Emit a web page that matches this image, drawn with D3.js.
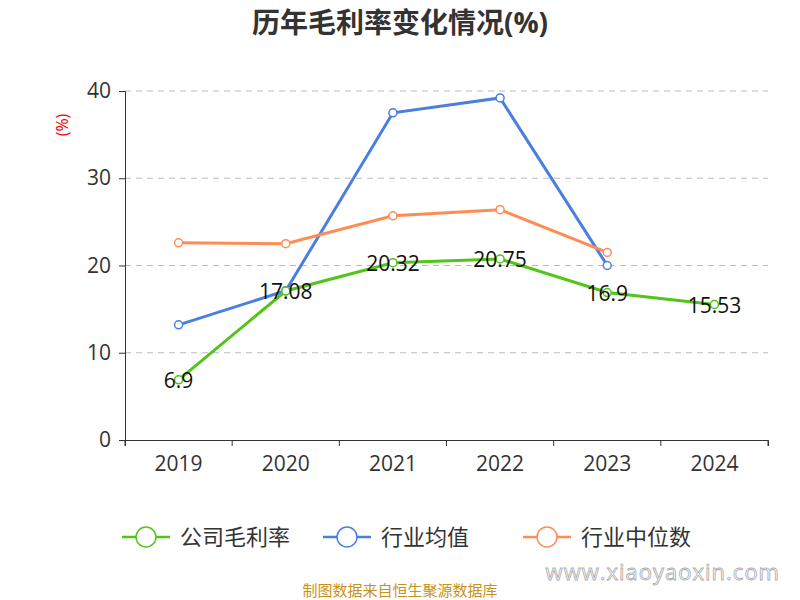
<!DOCTYPE html>
<html><head><meta charset="utf-8">
<script src="https://cdn.jsdelivr.net/npm/d3@7"></script>
<style>body{margin:0;background:#fff}text{font-family:"Open Sans","Noto Sans CJK SC",sans-serif}</style>
</head><body><svg id="c" width="800" height="600"></svg>
<script>
const years=["2019","2020","2021","2022","2023","2024"];
const company=[6.9,17.08,20.32,20.75,16.9,15.53];
const industryAvg=[13.2,17.1,37.5,39.2,20.0,null];
const industryMedian=[22.6,22.5,25.7,26.4,21.5,null];
const yTicks=[0,10,20,30,40];
const seriesNames=["公司毛利率","行业均值","行业中位数"];
const colors=["#52c41a","#4a7fe0","#ff8c55"];

const svg=d3.select("#c");
const x=d3.scaleBand().domain(years).range([125,768]);
const y=d3.scaleLinear().domain([0,40]).range([440,91]);
const cx=d=>x(d)+x.bandwidth()/2;

svg.append("text").attr("x",400).attr("y",33).attr("text-anchor","middle").attr("font-size",28).attr("font-weight","bold").attr("fill","#333").attr("font-family","Noto Sans CJK SC").text("历年毛利率变化情况(%)");
svg.append("text").attr("transform","translate(68,125) rotate(-90)").attr("text-anchor","middle").attr("font-size",16).attr("fill","#e00").text("(%)");

yTicks.forEach(t=>{ if(t>0) svg.append("line").attr("x1",125).attr("x2",768).attr("y1",y(t)).attr("y2",y(t)).attr("stroke","#bbb").attr("stroke-dasharray","6,5");});
const ya=svg.append("g").attr("transform","translate(125,0)").call(d3.axisLeft(y).tickValues(yTicks).tickSize(6).tickPadding(8));
const xa=svg.append("g").attr("transform","translate(0,440)").call(d3.axisBottom(x).tickSize(6).tickPadding(10));
xa.selectAll(".tick line").attr("transform",`translate(${-x.bandwidth()/2},0)`);
xa.append("line").attr("x1",768).attr("x2",768).attr("y1",0).attr("y2",6).attr("stroke","#333");
[ya,xa].forEach(a=>{a.selectAll("text").attr("font-size",21).attr("fill","#333").attr("font-family","Open Sans");a.selectAll("line,path").attr("stroke","#333");});

const data=[company,industryAvg,industryMedian];
[1,2,0].forEach(i=>{
  const pts=years.map((yr,j)=>[yr,data[i][j]]).filter(p=>p[1]!=null);
  svg.append("path").attr("d",d3.line().x(p=>cx(p[0])).y(p=>y(p[1]))(pts)).attr("fill","none").attr("stroke",colors[i]).attr("stroke-width",3);
  pts.forEach(p=>svg.append("circle").attr("cx",cx(p[0])).attr("cy",y(p[1])).attr("r",4).attr("fill","#fff").attr("stroke",colors[i]).attr("stroke-width",1.5));
});
years.forEach((yr,j)=>svg.append("text").attr("x",cx(yr)).attr("y",y(company[j])+8).attr("text-anchor","middle").attr("font-size",21).attr("fill","#111").text(company[j]));

const lx=[122,323,523];
seriesNames.forEach((n,i)=>{
  const g=svg.append("g").attr("transform",`translate(${lx[i]},537)`);
  g.append("line").attr("x1",0).attr("x2",48).attr("stroke",colors[i]).attr("stroke-width",2.5);
  g.append("circle").attr("cx",24).attr("r",10).attr("fill","#fff").attr("stroke",colors[i]).attr("stroke-width",1.5);
  g.append("text").attr("x",58).attr("y",8).attr("font-size",22).attr("fill","#333").attr("font-family","Noto Sans CJK SC").text(n);
});
svg.append("text").attr("x",400).attr("y",596).attr("text-anchor","middle").attr("font-size",15).attr("fill","#c8921a").attr("font-family","Noto Sans CJK SC").text("制图数据来自恒生聚源数据库");
svg.append("text").attr("x",780).attr("y",580).attr("text-anchor","end").attr("font-size",22).attr("fill","#fff").attr("stroke","#aaa").attr("stroke-width",0.8).attr("letter-spacing",1).text("www.xiaoyaoxin.com");
</script></body></html>
